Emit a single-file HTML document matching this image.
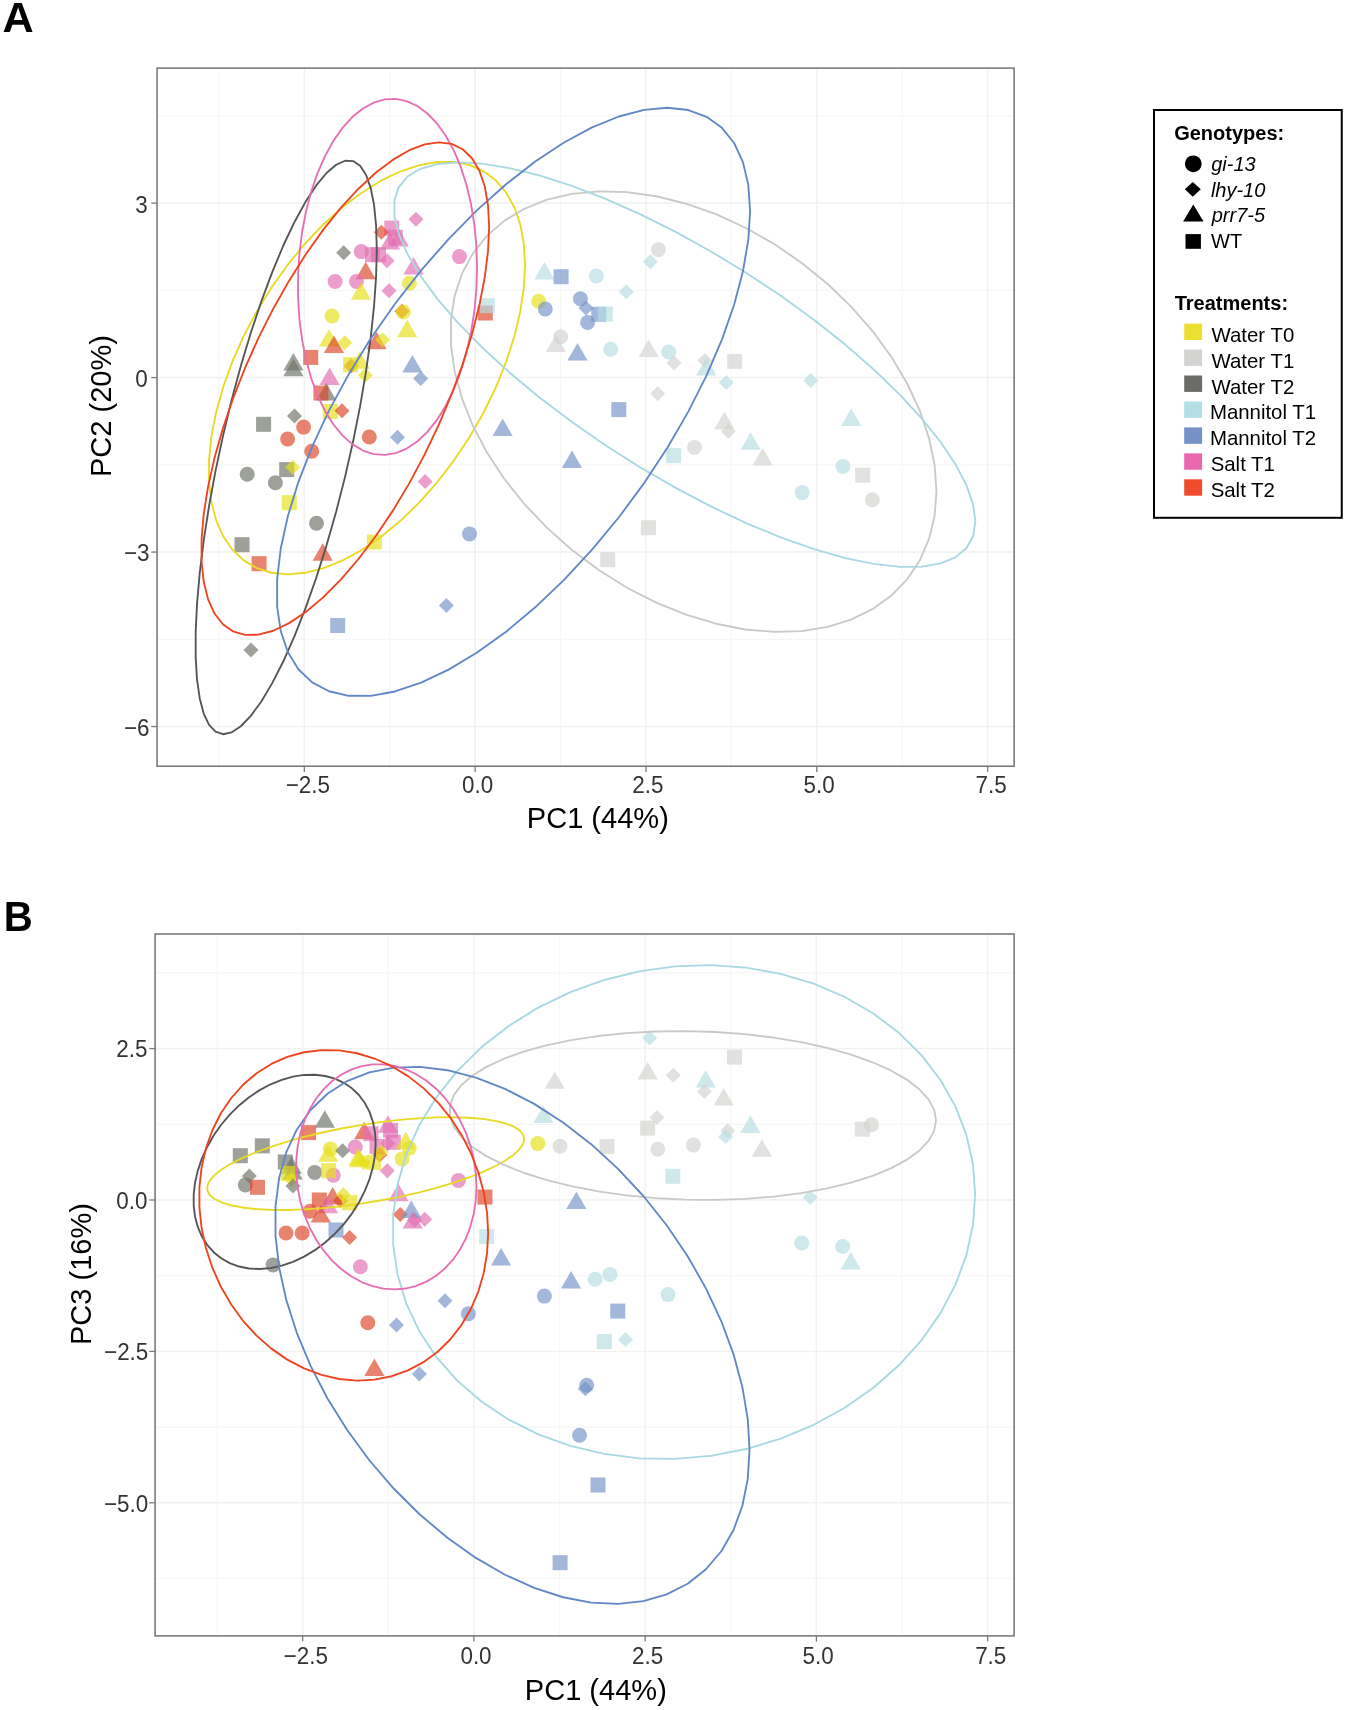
<!DOCTYPE html>
<html><head><meta charset="utf-8"><style>
html,body{margin:0;padding:0;background:#fff;}
svg{display:block;will-change:transform;}
text{font-family:"Liberation Sans",sans-serif;}
</style></head><body>
<svg width="1350" height="1710" viewBox="0 0 1350 1710">
<rect width="1350" height="1710" fill="#fff"/>
<text transform="translate(2.42 32.00) scale(1.005 1)" font-size="43" font-weight="bold">A</text>
<text transform="translate(3.71 931.40) scale(0.935 1)" font-size="43" font-weight="bold">B</text>
<g stroke="#F6F6F5" stroke-width="1.2"><line x1="218.91" y1="68.1" x2="218.91" y2="766.2"/><line x1="389.74" y1="68.1" x2="389.74" y2="766.2"/><line x1="560.56" y1="68.1" x2="560.56" y2="766.2"/><line x1="731.39" y1="68.1" x2="731.39" y2="766.2"/><line x1="902.21" y1="68.1" x2="902.21" y2="766.2"/><line x1="157.05" y1="639.32" x2="1014.1" y2="639.32"/><line x1="157.05" y1="464.84" x2="1014.1" y2="464.84"/><line x1="157.05" y1="290.36" x2="1014.1" y2="290.36"/><line x1="157.05" y1="115.88" x2="1014.1" y2="115.88"/></g>
<g stroke="#F1F1F0" stroke-width="1.5"><line x1="304.32" y1="68.1" x2="304.32" y2="766.2"/><line x1="475.15" y1="68.1" x2="475.15" y2="766.2"/><line x1="645.97" y1="68.1" x2="645.97" y2="766.2"/><line x1="816.80" y1="68.1" x2="816.80" y2="766.2"/><line x1="987.62" y1="68.1" x2="987.62" y2="766.2"/><line x1="157.05" y1="726.56" x2="1014.1" y2="726.56"/><line x1="157.05" y1="552.08" x2="1014.1" y2="552.08"/><line x1="157.05" y1="377.60" x2="1014.1" y2="377.60"/><line x1="157.05" y1="203.12" x2="1014.1" y2="203.12"/></g>
<g fill-opacity="0.67"><path d="M416.0 211.8L423.5 219.3L416.0 226.8L408.5 219.3Z" fill="#E16EB3"/><rect x="384.3" y="220.6" width="15.0" height="15.0" fill="#E16EB3"/><rect x="387.9" y="229.7" width="15.0" height="15.0" fill="#E16EB3"/><path d="M381.3 224.7L388.8 232.2L381.3 239.7L373.8 232.2Z" fill="#DB4627"/><path d="M390.0 232.0L400.1 249.5L379.9 249.5Z" fill="#E16EB3"/><path d="M398.8 229.1L408.9 246.6L388.7 246.6Z" fill="#E16EB3"/><path d="M343.7 245.2L351.2 252.7L343.7 260.2L336.2 252.7Z" fill="#6E7368"/><circle cx="361.3" cy="251.6" r="7.5" fill="#E16EB3"/><rect x="365.0" y="247.2" width="15.0" height="15.0" fill="#E16EB3"/><rect x="371.0" y="247.2" width="15.0" height="15.0" fill="#E16EB3"/><path d="M387.0 253.2L394.5 260.7L387.0 268.2L379.5 260.7Z" fill="#E16EB3"/><path d="M365.7 261.8L375.8 279.3L355.6 279.3Z" fill="#DB4627"/><path d="M413.5 256.9L423.6 274.4L403.4 274.4Z" fill="#E16EB3"/><circle cx="459.4" cy="256.6" r="7.5" fill="#E16EB3"/><circle cx="335.1" cy="281.5" r="7.5" fill="#E16EB3"/><circle cx="356.4" cy="281.4" r="7.5" fill="#E16EB3"/><path d="M361.0 282.3L371.1 299.8L350.9 299.8Z" fill="#E6E018"/><circle cx="409.4" cy="283.2" r="7.5" fill="#E6E018"/><path d="M389.0 283.3L396.5 290.8L389.0 298.3L381.5 290.8Z" fill="#E16EB3"/><circle cx="332.0" cy="316.0" r="7.5" fill="#E6E018"/><path d="M402.0 303.8L409.5 311.3L402.0 318.8L394.5 311.3Z" fill="#DB4627"/><circle cx="403.3" cy="312.0" r="7.5" fill="#E6E018"/><path d="M329.0 328.9L339.1 346.4L318.9 346.4Z" fill="#E6E018"/><path d="M334.0 335.6L344.1 353.1L323.9 353.1Z" fill="#DB4627"/><path d="M344.7 335.3L352.2 342.8L344.7 350.3L337.2 342.8Z" fill="#E6E018"/><path d="M376.5 331.7L386.6 349.2L366.4 349.2Z" fill="#DB4627"/><path d="M382.5 332.3L390.0 339.8L382.5 347.3L375.0 339.8Z" fill="#E6E018"/><rect x="303.2" y="349.9" width="15.0" height="15.0" fill="#DB4627"/><path d="M293.4 353.1L303.5 370.6L283.3 370.6Z" fill="#6E7368"/><path d="M293.4 358.8L303.5 376.3L283.3 376.3Z" fill="#6E7368"/><path d="M351.1 358.5L358.6 366.0L351.1 373.5L343.6 366.0Z" fill="#DB4627"/><rect x="343.1" y="357.2" width="15.0" height="15.0" fill="#E6E018"/><path d="M359.8 351.3L369.9 368.8L349.7 368.8Z" fill="#E6E018"/><path d="M365.3 367.7L372.8 375.2L365.3 382.7L357.8 375.2Z" fill="#E6E018"/><path d="M329.6 367.6L339.7 385.1L319.5 385.1Z" fill="#E16EB3"/><path d="M326.3 383.0L336.4 400.5L316.2 400.5Z" fill="#6E7368"/><rect x="313.4" y="385.5" width="15.0" height="15.0" fill="#DB4627"/><rect x="322.7" y="404.0" width="15.0" height="15.0" fill="#E6E018"/><path d="M342.0 403.2L349.5 410.7L342.0 418.2L334.5 410.7Z" fill="#DB4627"/><path d="M294.5 408.5L302.0 416.0L294.5 423.5L287.0 416.0Z" fill="#6E7368"/><rect x="256.1" y="416.8" width="15.0" height="15.0" fill="#6E7368"/><path d="M407.2 319.7L417.3 337.2L397.1 337.2Z" fill="#E6E018"/><path d="M412.4 355.0L422.5 372.5L402.3 372.5Z" fill="#7494C6"/><path d="M420.7 370.9L428.2 378.4L420.7 385.9L413.2 378.4Z" fill="#7494C6"/><rect x="477.8" y="305.5" width="15.0" height="15.0" fill="#DB4627"/><rect x="479.9" y="298.1" width="15.0" height="15.0" fill="#B6DDE3"/><circle cx="538.7" cy="301.3" r="7.5" fill="#E6E018"/><circle cx="545.3" cy="309.0" r="7.5" fill="#7494C6"/><circle cx="658.4" cy="249.6" r="7.5" fill="#D2D2CF"/><path d="M650.4 254.2L657.9 261.7L650.4 269.2L642.9 261.7Z" fill="#B6DDE3"/><path d="M544.4 262.1L554.5 279.6L534.3 279.6Z" fill="#B6DDE3"/><rect x="553.6" y="269.2" width="15.0" height="15.0" fill="#7494C6"/><circle cx="596.3" cy="276.0" r="7.5" fill="#B6DDE3"/><path d="M626.3 284.2L633.8 291.7L626.3 299.2L618.8 291.7Z" fill="#B6DDE3"/><circle cx="580.4" cy="298.7" r="7.5" fill="#7494C6"/><path d="M586.0 300.5L593.5 308.0L586.0 315.5L578.5 308.0Z" fill="#7494C6"/><circle cx="587.6" cy="322.4" r="7.5" fill="#7494C6"/><rect x="591.2" y="306.8" width="15.0" height="15.0" fill="#7494C6"/><rect x="597.8" y="306.5" width="15.0" height="15.0" fill="#B6DDE3"/><circle cx="560.7" cy="336.7" r="7.5" fill="#D2D2CF"/><path d="M555.9 334.5L566.0 352.0L545.8 352.0Z" fill="#D2D2CF"/><path d="M577.5 343.0L587.6 360.5L567.4 360.5Z" fill="#7494C6"/><circle cx="610.7" cy="349.3" r="7.5" fill="#B6DDE3"/><path d="M648.7 339.5L658.8 357.0L638.6 357.0Z" fill="#D2D2CF"/><circle cx="668.7" cy="352.0" r="7.5" fill="#B6DDE3"/><path d="M674.0 355.4L681.5 362.9L674.0 370.4L666.5 362.9Z" fill="#D2D2CF"/><path d="M704.8 352.9L712.3 360.4L704.8 367.9L697.3 360.4Z" fill="#D2D2CF"/><path d="M706.3 358.1L716.4 375.6L696.2 375.6Z" fill="#B6DDE3"/><rect x="727.2" y="353.9" width="15.0" height="15.0" fill="#D2D2CF"/><path d="M726.3 375.1L733.8 382.6L726.3 390.1L718.8 382.6Z" fill="#B6DDE3"/><path d="M810.7 372.9L818.2 380.4L810.7 387.9L803.2 380.4Z" fill="#B6DDE3"/><path d="M657.7 386.2L665.2 393.7L657.7 401.2L650.2 393.7Z" fill="#D2D2CF"/><rect x="611.3" y="402.1" width="15.0" height="15.0" fill="#7494C6"/><path d="M724.4 411.7L734.5 429.2L714.3 429.2Z" fill="#D2D2CF"/><path d="M728.3 423.7L735.8 431.2L728.3 438.7L720.8 431.2Z" fill="#D2D2CF"/><circle cx="694.5" cy="447.4" r="7.5" fill="#D2D2CF"/><path d="M750.7 432.2L760.8 449.7L740.6 449.7Z" fill="#B6DDE3"/><path d="M762.6 448.0L772.7 465.5L752.5 465.5Z" fill="#D2D2CF"/><path d="M851.2 408.5L861.3 426.0L841.1 426.0Z" fill="#B6DDE3"/><circle cx="843.0" cy="466.4" r="7.5" fill="#B6DDE3"/><rect x="855.2" y="467.7" width="15.0" height="15.0" fill="#D2D2CF"/><circle cx="802.2" cy="492.6" r="7.5" fill="#B6DDE3"/><circle cx="872.3" cy="499.7" r="7.5" fill="#D2D2CF"/><path d="M572.0 450.4L582.1 467.9L561.9 467.9Z" fill="#7494C6"/><rect x="666.1" y="448.1" width="15.0" height="15.0" fill="#B6DDE3"/><rect x="640.9" y="520.2" width="15.0" height="15.0" fill="#D2D2CF"/><rect x="600.2" y="552.2" width="15.0" height="15.0" fill="#D2D2CF"/><circle cx="303.6" cy="427.1" r="7.5" fill="#DB4627"/><circle cx="287.6" cy="439.0" r="7.5" fill="#DB4627"/><circle cx="311.7" cy="451.3" r="7.5" fill="#DB4627"/><circle cx="369.3" cy="437.0" r="7.5" fill="#DB4627"/><path d="M397.5 429.8L405.0 437.3L397.5 444.8L390.0 437.3Z" fill="#7494C6"/><rect x="279.2" y="462.1" width="15.0" height="15.0" fill="#6E7368"/><path d="M292.7 459.8L300.2 467.3L292.7 474.8L285.2 467.3Z" fill="#E6E018"/><circle cx="247.2" cy="474.2" r="7.5" fill="#6E7368"/><circle cx="275.4" cy="482.7" r="7.5" fill="#6E7368"/><rect x="281.8" y="495.2" width="15.0" height="15.0" fill="#E6E018"/><circle cx="316.5" cy="523.3" r="7.5" fill="#6E7368"/><rect x="234.5" y="537.2" width="15.0" height="15.0" fill="#6E7368"/><rect x="251.6" y="556.2" width="15.0" height="15.0" fill="#DB4627"/><path d="M322.7 543.2L332.8 560.7L312.6 560.7Z" fill="#DB4627"/><rect x="366.9" y="534.5" width="15.0" height="15.0" fill="#E6E018"/><rect x="330.2" y="618.0" width="15.0" height="15.0" fill="#7494C6"/><path d="M251.0 642.6L258.5 650.1L251.0 657.6L243.5 650.1Z" fill="#6E7368"/><circle cx="469.5" cy="533.9" r="7.5" fill="#7494C6"/><path d="M446.4 598.1L453.9 605.6L446.4 613.1L438.9 605.6Z" fill="#7494C6"/><path d="M425.1 473.9L432.6 481.4L425.1 488.9L417.6 481.4Z" fill="#E16EB3"/><path d="M502.6 418.4L512.7 435.9L492.5 435.9Z" fill="#7494C6"/></g>
<g><path d="M525.04 264.90L523.84 287.65L520.26 311.62L514.36 336.44L506.22 361.74L495.97 387.14L483.76 412.24L469.78 436.68L454.24 460.07L437.38 482.06L419.44 502.33L400.72 520.56L381.47 536.48L362.01 549.84L342.62 560.44L323.60 568.13L305.23 572.78L287.80 574.33L271.57 572.75L256.78 568.07L243.67 560.35L232.42 549.72L223.20 536.33L216.17 520.39L211.42 502.14L209.03 481.85L209.03 459.84L211.42 436.43L216.17 411.99L223.20 386.88L232.42 361.49L243.67 336.19L256.78 311.37L271.57 287.41L287.80 264.68L305.23 243.51L323.60 224.22L342.62 207.12L362.01 192.45L381.47 180.44L400.72 171.28L419.44 165.10L437.38 161.99L454.24 162.00L469.78 165.14L483.76 171.36L495.97 180.55L506.22 192.58L514.36 207.28L520.26 224.40L523.84 243.71Z" fill="none" stroke="#E8DA22" stroke-width="1.85" stroke-linejoin="round"/><path d="M936.45 490.96L934.61 515.63L929.11 538.73L920.04 559.89L907.54 578.81L891.79 595.20L873.04 608.80L851.56 619.41L827.69 626.88L801.79 631.08L774.24 631.95L745.47 629.48L715.91 623.72L686.01 614.73L656.22 602.67L627.00 587.71L598.78 570.09L572.01 550.06L547.07 527.93L524.35 504.04L504.20 478.75L486.92 452.44L472.76 425.51L461.96 398.37L454.66 371.44L450.99 345.11L450.99 319.79L454.66 295.86L461.96 273.69L472.76 253.61L486.92 235.92L504.20 220.90L524.35 208.77L547.07 199.72L572.01 193.87L598.78 191.33L627.00 192.13L656.22 196.25L686.01 203.64L715.91 214.19L745.47 227.72L774.24 244.04L801.79 262.91L827.69 284.03L851.56 307.08L873.04 331.72L891.79 357.57L907.54 384.24L920.04 411.32L929.11 438.41L934.61 465.09Z" fill="none" stroke="#C9C9C7" stroke-width="1.85" stroke-linejoin="round"/><path d="M376.78 249.61L376.09 276.67L374.04 306.31L370.66 338.09L365.99 371.53L360.12 406.11L353.12 441.32L345.11 476.62L336.21 511.47L326.54 545.36L316.27 577.75L305.53 608.17L294.50 636.15L283.35 661.27L272.24 683.14L261.34 701.44L250.81 715.88L240.82 726.26L231.52 732.40L223.05 734.23L215.53 731.70L209.08 724.86L203.80 713.82L199.77 698.73L197.05 679.84L195.68 657.42L195.68 631.81L197.05 603.41L199.77 572.64L203.80 539.97L209.08 505.89L215.53 470.93L223.05 435.61L231.52 400.46L240.82 366.03L250.81 332.83L261.34 301.36L272.24 272.11L283.35 245.51L294.50 221.97L305.53 201.85L316.27 185.44L326.54 173.01L336.21 164.73L345.11 160.74L353.12 161.09L360.12 165.78L365.99 174.74L370.66 187.83L374.04 204.85L376.09 225.55Z" fill="none" stroke="#555555" stroke-width="1.85" stroke-linejoin="round"/><path d="M975.35 521.49L973.15 536.04L966.57 547.99L955.72 557.16L940.76 563.41L921.91 566.65L899.47 566.83L873.77 563.95L845.20 558.04L814.20 549.21L781.23 537.58L746.80 523.33L711.42 506.67L675.64 487.86L639.99 467.19L605.02 444.96L571.26 421.52L539.21 397.22L509.37 372.42L482.19 347.51L458.07 322.85L437.39 298.84L420.45 275.82L407.52 254.15L398.79 234.15L394.39 216.14L394.39 200.37L398.79 187.10L407.52 176.52L420.45 168.80L437.39 164.04L458.07 162.33L482.19 163.68L509.37 168.08L539.21 175.47L571.26 185.72L605.02 198.68L639.99 214.17L675.64 231.93L711.42 251.71L746.80 273.20L781.23 296.08L814.20 320.00L845.20 344.59L873.77 369.50L899.47 394.33L921.91 418.71L940.76 442.27L955.72 464.66L966.57 485.53L973.15 504.57Z" fill="none" stroke="#A8D8E0" stroke-width="1.85" stroke-linejoin="round"/><path d="M750.09 210.97L748.30 239.93L742.94 271.34L734.11 304.74L721.93 339.61L706.58 375.43L688.31 411.65L667.39 447.72L644.13 483.11L618.90 517.26L592.06 549.67L564.03 579.85L535.23 607.32L506.10 631.69L477.08 652.57L448.61 669.66L421.12 682.69L395.04 691.47L370.74 695.86L348.61 695.79L328.98 691.27L312.14 682.37L298.35 669.22L287.82 652.02L280.71 631.03L277.13 606.57L277.13 579.01L280.71 548.77L287.82 516.30L298.35 482.10L312.14 446.69L328.98 410.60L348.61 374.39L370.74 338.59L395.04 303.75L421.12 270.41L448.61 239.06L477.08 210.18L506.10 184.21L535.23 161.54L564.03 142.52L592.06 127.43L618.90 116.51L644.13 109.91L667.39 107.74L688.31 110.04L706.58 116.76L721.93 127.81L734.11 143.01L742.94 162.14L748.30 184.91Z" fill="none" stroke="#6286C6" stroke-width="1.85" stroke-linejoin="round"/><path d="M477.05 267.43L476.37 289.36L474.34 311.09L471.00 332.31L466.39 352.69L460.58 371.92L453.67 389.71L445.75 405.78L436.95 419.91L427.39 431.87L417.24 441.47L406.63 448.59L395.73 453.10L384.70 454.94L373.72 454.08L362.95 450.53L352.54 444.35L342.67 435.64L333.47 424.52L325.10 411.16L317.67 395.76L311.29 378.56L306.08 359.83L302.09 339.83L299.40 318.88L298.05 297.30L298.05 275.40L299.40 253.53L302.09 232.01L306.08 211.18L311.29 191.34L317.67 172.79L325.10 155.83L333.47 140.70L342.67 127.63L352.54 116.83L362.95 108.45L373.72 102.63L384.70 99.45L395.73 98.96L406.63 101.16L417.24 106.03L427.39 113.49L436.95 123.43L445.75 135.70L453.67 150.10L460.58 166.43L466.39 184.43L471.00 203.83L474.34 224.34L476.37 245.65Z" fill="none" stroke="#E86EB4" stroke-width="1.85" stroke-linejoin="round"/><path d="M489.13 226.98L488.03 251.05L484.78 277.22L479.41 305.07L472.00 334.20L462.67 364.15L451.57 394.47L438.85 424.71L424.71 454.41L409.36 483.11L393.05 510.38L376.01 535.81L358.50 559.01L340.79 579.63L323.14 597.36L305.84 611.92L289.13 623.11L273.27 630.74L258.50 634.70L245.04 634.94L233.10 631.44L222.87 624.27L214.48 613.53L208.08 599.38L203.76 582.03L201.59 561.76L201.59 538.87L203.76 513.70L208.08 486.64L214.48 458.10L222.87 428.50L233.10 398.31L245.04 367.97L258.50 337.94L273.27 308.69L289.13 280.65L305.84 254.25L323.14 229.89L340.79 207.94L358.50 188.73L376.01 172.55L393.05 159.65L409.36 150.23L424.71 144.42L438.85 142.31L451.57 143.95L462.67 149.29L472.00 158.27L479.41 170.74L484.78 186.51L488.03 205.35Z" fill="none" stroke="#EC4420" stroke-width="1.85" stroke-linejoin="round"/></g>
<rect x="157.05" y="68.1" width="857.05" height="698.10" fill="none" stroke="#737373" stroke-width="1.5"/>
<g stroke="#7A7A7A" stroke-width="1.3"><line x1="304.32" y1="766.2" x2="304.32" y2="771.9000000000001"/><line x1="475.15" y1="766.2" x2="475.15" y2="771.9000000000001"/><line x1="645.97" y1="766.2" x2="645.97" y2="771.9000000000001"/><line x1="816.80" y1="766.2" x2="816.80" y2="771.9000000000001"/><line x1="987.62" y1="766.2" x2="987.62" y2="771.9000000000001"/><line x1="151.25" y1="203.12" x2="157.05" y2="203.12"/><line x1="151.25" y1="377.60" x2="157.05" y2="377.60"/><line x1="151.25" y1="552.08" x2="157.05" y2="552.08"/><line x1="151.25" y1="726.56" x2="157.05" y2="726.56"/></g>
<g><text transform="translate(285.69 793.20) scale(0.935 1)" font-size="24" fill="#333333">−2.5</text><text transform="translate(462.02 793.20) scale(0.935 1)" font-size="24" fill="#333333">0.0</text><text transform="translate(632.37 793.20) scale(0.935 1)" font-size="24" fill="#333333">2.5</text><text transform="translate(803.60 793.20) scale(0.935 1)" font-size="24" fill="#333333">5.0</text><text transform="translate(975.55 793.20) scale(0.935 1)" font-size="24" fill="#333333">7.5</text><text transform="translate(135.31 212.50) scale(0.935 1)" font-size="24" fill="#333333">3</text><text transform="translate(135.20 386.50) scale(0.935 1)" font-size="24" fill="#333333">0</text><text transform="translate(124.00 561.30) scale(0.935 1)" font-size="24" fill="#333333">−3</text><text transform="translate(124.00 736.10) scale(0.935 1)" font-size="24" fill="#333333">−6</text></g>
<text transform="translate(526.82 827.70) scale(0.975 1)" font-size="29.8">PC1 (44%)</text><g transform="translate(111.3 0) rotate(-90)"><text transform="translate(-477.08 0.00) scale(0.975 1)" font-size="29.8">PC2 (20%)</text></g>
<g stroke="#F6F6F5" stroke-width="1.2"><line x1="217.02" y1="934.0" x2="217.02" y2="1635.9"/><line x1="388.27" y1="934.0" x2="388.27" y2="1635.9"/><line x1="559.52" y1="934.0" x2="559.52" y2="1635.9"/><line x1="730.77" y1="934.0" x2="730.77" y2="1635.9"/><line x1="902.02" y1="934.0" x2="902.02" y2="1635.9"/><line x1="155.1" y1="1578.50" x2="1014.1" y2="1578.50"/><line x1="155.1" y1="1427.10" x2="1014.1" y2="1427.10"/><line x1="155.1" y1="1275.70" x2="1014.1" y2="1275.70"/><line x1="155.1" y1="1124.30" x2="1014.1" y2="1124.30"/><line x1="155.1" y1="972.90" x2="1014.1" y2="972.90"/></g>
<g stroke="#F1F1F0" stroke-width="1.5"><line x1="302.65" y1="934.0" x2="302.65" y2="1635.9"/><line x1="473.90" y1="934.0" x2="473.90" y2="1635.9"/><line x1="645.15" y1="934.0" x2="645.15" y2="1635.9"/><line x1="816.40" y1="934.0" x2="816.40" y2="1635.9"/><line x1="987.65" y1="934.0" x2="987.65" y2="1635.9"/><line x1="155.1" y1="1502.80" x2="1014.1" y2="1502.80"/><line x1="155.1" y1="1351.40" x2="1014.1" y2="1351.40"/><line x1="155.1" y1="1200.00" x2="1014.1" y2="1200.00"/><line x1="155.1" y1="1048.60" x2="1014.1" y2="1048.60"/></g>
<g fill-opacity="0.67"><rect x="232.8" y="1148.2" width="15.0" height="15.0" fill="#6E7368"/><rect x="254.8" y="1138.3" width="15.0" height="15.0" fill="#6E7368"/><rect x="277.8" y="1154.5" width="15.0" height="15.0" fill="#6E7368"/><path d="M291.7 1156.3L301.8 1173.8L281.6 1173.8Z" fill="#6E7368"/><path d="M292.7 1162.0L302.8 1179.5L282.6 1179.5Z" fill="#6E7368"/><rect x="280.5" y="1165.8" width="15.0" height="15.0" fill="#E6E018"/><path d="M291.3 1171.8L298.8 1179.3L291.3 1186.8L283.8 1179.3Z" fill="#E6E018"/><path d="M249.3 1168.5L256.8 1176.0L249.3 1183.5L241.8 1176.0Z" fill="#6E7368"/><path d="M293.0 1178.5L300.5 1186.0L293.0 1193.5L285.5 1186.0Z" fill="#6E7368"/><circle cx="245.3" cy="1185.0" r="7.5" fill="#6E7368"/><rect x="250.0" y="1179.8" width="15.0" height="15.0" fill="#DB4627"/><path d="M324.8 1110.2L334.9 1127.7L314.7 1127.7Z" fill="#6E7368"/><rect x="301.0" y="1125.1" width="15.0" height="15.0" fill="#DB4627"/><circle cx="330.4" cy="1148.9" r="7.5" fill="#E6E018"/><path d="M328.1 1144.3L338.2 1161.8L318.0 1161.8Z" fill="#E6E018"/><path d="M342.6 1143.2L350.1 1150.7L342.6 1158.2L335.1 1150.7Z" fill="#6E7368"/><circle cx="355.2" cy="1147.0" r="7.5" fill="#E16EB3"/><circle cx="314.7" cy="1172.4" r="7.5" fill="#6E7368"/><circle cx="333.3" cy="1175.2" r="7.5" fill="#E16EB3"/><rect x="321.0" y="1163.2" width="15.0" height="15.0" fill="#E6E018"/><path d="M364.2 1121.8L374.3 1139.3L354.1 1139.3Z" fill="#DB4627"/><rect x="363.5" y="1126.2" width="15.0" height="15.0" fill="#E16EB3"/><path d="M387.9 1115.3L398.0 1132.8L377.8 1132.8Z" fill="#E16EB3"/><rect x="383.1" y="1122.9" width="15.0" height="15.0" fill="#E16EB3"/><rect x="369.5" y="1138.9" width="15.0" height="15.0" fill="#E16EB3"/><rect x="385.8" y="1134.8" width="15.0" height="15.0" fill="#E16EB3"/><path d="M387.9 1135.9L395.4 1143.4L387.9 1150.9L380.4 1143.4Z" fill="#E16EB3"/><path d="M379.8 1147.5L387.3 1155.0L379.8 1162.5L372.3 1155.0Z" fill="#DB4627"/><path d="M381.0 1144.5L388.5 1152.0L381.0 1159.5L373.5 1152.0Z" fill="#E6E018"/><path d="M405.7 1131.6L415.8 1149.1L395.6 1149.1Z" fill="#E6E018"/><circle cx="409.3" cy="1148.2" r="7.5" fill="#E6E018"/><circle cx="402.1" cy="1158.9" r="7.5" fill="#E6E018"/><path d="M358.3 1148.2L368.4 1165.7L348.2 1165.7Z" fill="#E6E018"/><path d="M359.5 1149.8L369.6 1167.3L349.4 1167.3Z" fill="#E6E018"/><path d="M363.8 1155.0L371.3 1162.5L363.8 1170.0L356.3 1162.5Z" fill="#E6E018"/><rect x="365.9" y="1154.9" width="15.0" height="15.0" fill="#E6E018"/><path d="M387.3 1163.2L394.8 1170.7L387.3 1178.2L379.8 1170.7Z" fill="#E16EB3"/><rect x="311.8" y="1192.5" width="15.0" height="15.0" fill="#DB4627"/><path d="M332.7 1187.1L342.8 1204.6L322.6 1204.6Z" fill="#DB4627"/><path d="M328.0 1195.8L338.1 1213.3L317.9 1213.3Z" fill="#E16EB3"/><path d="M340.4 1193.2L347.9 1200.7L340.4 1208.2L332.9 1200.7Z" fill="#DB4627"/><path d="M343.3 1187.2L350.8 1194.7L343.3 1202.2L335.8 1194.7Z" fill="#E6E018"/><rect x="342.1" y="1195.2" width="15.0" height="15.0" fill="#E6E018"/><circle cx="310.0" cy="1211.3" r="7.5" fill="#DB4627"/><path d="M320.7 1205.1L330.8 1222.6L310.6 1222.6Z" fill="#DB4627"/><rect x="328.5" y="1222.5" width="15.0" height="15.0" fill="#7494C6"/><path d="M349.6 1230.1L357.1 1237.6L349.6 1245.1L342.1 1237.6Z" fill="#DB4627"/><circle cx="286.0" cy="1233.0" r="7.5" fill="#DB4627"/><circle cx="302.2" cy="1233.0" r="7.5" fill="#DB4627"/><circle cx="273.1" cy="1264.9" r="7.5" fill="#6E7368"/><circle cx="360.3" cy="1266.7" r="7.5" fill="#E16EB3"/><circle cx="458.4" cy="1180.5" r="7.5" fill="#E16EB3"/><path d="M398.4 1183.8L408.5 1201.3L388.3 1201.3Z" fill="#E16EB3"/><path d="M400.3 1206.9L407.8 1214.4L400.3 1221.9L392.8 1214.4Z" fill="#DB4627"/><path d="M414.6 1212.8L422.1 1220.3L414.6 1227.8L407.1 1220.3Z" fill="#E16EB3"/><path d="M411.3 1200.4L421.4 1217.9L401.2 1217.9Z" fill="#7494C6"/><path d="M412.7 1211.1L422.8 1228.6L402.6 1228.6Z" fill="#E16EB3"/><path d="M424.7 1211.8L432.2 1219.3L424.7 1226.8L417.2 1219.3Z" fill="#E16EB3"/><rect x="477.4" y="1189.6" width="15.0" height="15.0" fill="#DB4627"/><rect x="479.2" y="1229.1" width="15.0" height="15.0" fill="#B6DDE3"/><path d="M501.1 1248.1L511.2 1265.6L491.0 1265.6Z" fill="#7494C6"/><path d="M576.4 1191.4L586.5 1208.9L566.3 1208.9Z" fill="#7494C6"/><path d="M571.1 1270.9L581.2 1288.4L561.0 1288.4Z" fill="#7494C6"/><circle cx="595.1" cy="1279.2" r="7.5" fill="#B6DDE3"/><circle cx="609.9" cy="1274.5" r="7.5" fill="#B6DDE3"/><circle cx="668.0" cy="1294.6" r="7.5" fill="#B6DDE3"/><circle cx="544.4" cy="1296.1" r="7.5" fill="#7494C6"/><rect x="610.3" y="1303.6" width="15.0" height="15.0" fill="#7494C6"/><rect x="596.8" y="1334.1" width="15.0" height="15.0" fill="#B6DDE3"/><path d="M625.5 1332.0L633.0 1339.5L625.5 1347.0L618.0 1339.5Z" fill="#B6DDE3"/><path d="M445.0 1293.3L452.5 1300.8L445.0 1308.3L437.5 1300.8Z" fill="#7494C6"/><circle cx="468.4" cy="1313.8" r="7.5" fill="#7494C6"/><path d="M396.5 1317.5L404.0 1325.0L396.5 1332.5L389.0 1325.0Z" fill="#7494C6"/><circle cx="367.8" cy="1322.7" r="7.5" fill="#DB4627"/><path d="M374.4 1358.5L384.5 1376.0L364.3 1376.0Z" fill="#DB4627"/><path d="M419.4 1366.5L426.9 1374.0L419.4 1381.5L411.9 1374.0Z" fill="#7494C6"/><circle cx="586.7" cy="1385.2" r="7.5" fill="#7494C6"/><path d="M585.3 1381.2L592.8 1388.7L585.3 1396.2L577.8 1388.7Z" fill="#7494C6"/><circle cx="579.5" cy="1435.2" r="7.5" fill="#7494C6"/><rect x="590.5" y="1477.5" width="15.0" height="15.0" fill="#7494C6"/><rect x="552.6" y="1555.2" width="15.0" height="15.0" fill="#7494C6"/><path d="M649.6 1030.6L657.1 1038.1L649.6 1045.6L642.1 1038.1Z" fill="#B6DDE3"/><path d="M554.8 1071.3L564.9 1088.8L544.7 1088.8Z" fill="#D2D2CF"/><path d="M647.7 1061.9L657.8 1079.4L637.6 1079.4Z" fill="#D2D2CF"/><path d="M673.3 1067.7L680.8 1075.2L673.3 1082.7L665.8 1075.2Z" fill="#D2D2CF"/><path d="M705.7 1070.1L715.8 1087.6L695.6 1087.6Z" fill="#B6DDE3"/><path d="M704.4 1084.0L711.9 1091.5L704.4 1099.0L696.9 1091.5Z" fill="#D2D2CF"/><path d="M543.4 1105.4L553.5 1122.9L533.3 1122.9Z" fill="#B6DDE3"/><path d="M657.0 1109.9L664.5 1117.4L657.0 1124.9L649.5 1117.4Z" fill="#D2D2CF"/><rect x="640.2" y="1120.6" width="15.0" height="15.0" fill="#D2D2CF"/><circle cx="537.8" cy="1143.6" r="7.5" fill="#E6E018"/><circle cx="560.0" cy="1146.3" r="7.5" fill="#D2D2CF"/><rect x="599.5" y="1139.1" width="15.0" height="15.0" fill="#D2D2CF"/><circle cx="657.8" cy="1149.3" r="7.5" fill="#D2D2CF"/><circle cx="693.3" cy="1145.1" r="7.5" fill="#D2D2CF"/><rect x="727.0" y="1049.6" width="15.0" height="15.0" fill="#D2D2CF"/><path d="M723.7 1088.1L733.8 1105.6L713.6 1105.6Z" fill="#D2D2CF"/><path d="M727.7 1123.2L735.2 1130.7L727.7 1138.2L720.2 1130.7Z" fill="#D2D2CF"/><path d="M725.6 1129.2L733.1 1136.7L725.6 1144.2L718.1 1136.7Z" fill="#B6DDE3"/><path d="M750.4 1115.5L760.5 1133.0L740.3 1133.0Z" fill="#B6DDE3"/><path d="M761.9 1139.2L772.0 1156.7L751.8 1156.7Z" fill="#D2D2CF"/><rect x="854.8" y="1121.7" width="15.0" height="15.0" fill="#D2D2CF"/><circle cx="871.6" cy="1124.8" r="7.5" fill="#D2D2CF"/><rect x="665.3" y="1168.8" width="15.0" height="15.0" fill="#B6DDE3"/><path d="M810.2 1190.1L817.7 1197.6L810.2 1205.1L802.7 1197.6Z" fill="#B6DDE3"/><circle cx="801.7" cy="1243.0" r="7.5" fill="#B6DDE3"/><circle cx="842.6" cy="1246.5" r="7.5" fill="#B6DDE3"/><path d="M850.8 1252.1L860.9 1269.6L840.7 1269.6Z" fill="#B6DDE3"/></g>
<g><path d="M524.20 1139.01L523.00 1144.03L519.41 1149.35L513.49 1154.89L505.33 1160.55L495.05 1166.27L482.81 1171.94L468.80 1177.49L453.22 1182.83L436.31 1187.87L418.33 1192.55L399.55 1196.79L380.26 1200.53L360.75 1203.71L341.31 1206.28L322.24 1208.20L303.82 1209.45L286.35 1210.00L270.07 1209.85L255.25 1209.00L242.09 1207.46L230.81 1205.26L221.58 1202.42L214.53 1199.00L209.76 1195.04L207.36 1190.60L207.36 1185.76L209.76 1180.58L214.53 1175.14L221.58 1169.53L230.81 1163.83L242.09 1158.12L255.25 1152.50L270.07 1147.05L286.35 1141.84L303.82 1136.97L322.24 1132.50L341.31 1128.51L360.75 1125.04L380.26 1122.16L399.55 1119.91L418.33 1118.33L436.31 1117.42L453.22 1117.22L468.80 1117.72L482.81 1118.92L495.05 1120.80L505.33 1123.32L513.49 1126.46L519.41 1130.15L523.00 1134.36Z" fill="none" stroke="#E8DA22" stroke-width="1.85" stroke-linejoin="round"/><path d="M936.04 1120.30L934.20 1130.63L928.70 1140.72L919.62 1150.44L907.10 1159.62L891.33 1168.14L872.56 1175.86L851.06 1182.66L827.16 1188.45L801.22 1193.13L773.64 1196.64L744.83 1198.92L715.24 1199.93L685.30 1199.66L655.48 1198.12L626.22 1195.33L597.98 1191.32L571.17 1186.17L546.20 1179.95L523.46 1172.75L503.28 1164.68L485.98 1155.87L471.81 1146.45L460.99 1136.56L453.68 1126.35L450.00 1115.97L450.00 1105.59L453.68 1095.36L460.99 1085.44L471.81 1075.97L485.98 1067.10L503.28 1058.97L523.46 1051.69L546.20 1045.39L571.17 1040.14L597.98 1036.04L626.22 1033.14L655.48 1031.49L685.30 1031.12L715.24 1032.03L744.83 1034.20L773.64 1037.60L801.22 1042.19L827.16 1047.89L851.06 1054.61L872.56 1062.26L891.33 1070.71L907.10 1079.85L919.62 1089.52L928.70 1099.59L934.20 1109.90Z" fill="none" stroke="#C9C9C7" stroke-width="1.85" stroke-linejoin="round"/><path d="M375.67 1143.57L374.98 1155.22L372.92 1167.11L369.52 1179.08L364.83 1190.93L358.93 1202.50L351.90 1213.60L343.85 1224.07L334.90 1233.74L325.19 1242.48L314.86 1250.15L304.08 1256.63L292.99 1261.83L281.79 1265.66L270.62 1268.07L259.67 1269.02L249.09 1268.49L239.05 1266.51L229.71 1263.08L221.19 1258.28L213.64 1252.16L207.16 1244.83L201.85 1236.39L197.80 1226.97L195.07 1216.71L193.69 1205.78L193.69 1194.33L195.07 1182.54L197.80 1170.59L201.85 1158.66L207.16 1146.92L213.64 1135.57L221.19 1124.76L229.71 1114.67L239.05 1105.44L249.09 1097.23L259.67 1090.14L270.62 1084.29L281.79 1079.77L292.99 1076.64L304.08 1074.96L314.86 1074.74L325.19 1076.00L334.90 1078.71L343.85 1082.83L351.90 1088.31L358.93 1095.04L364.83 1102.95L369.52 1111.89L372.92 1121.75L374.98 1132.36Z" fill="none" stroke="#555555" stroke-width="1.85" stroke-linejoin="round"/><path d="M975.16 1194.45L972.96 1224.86L966.37 1255.08L955.49 1284.65L940.51 1313.12L921.63 1340.06L899.14 1365.05L873.40 1387.73L844.78 1407.75L813.72 1424.81L780.70 1438.63L746.21 1449.03L710.77 1455.83L674.92 1458.94L639.22 1458.31L604.18 1453.95L570.36 1445.92L538.26 1434.35L508.36 1419.40L481.13 1401.32L456.97 1380.37L436.25 1356.87L419.29 1331.17L406.33 1303.67L397.58 1274.78L393.18 1244.95L393.18 1214.61L397.58 1184.24L406.33 1154.29L419.29 1125.21L436.25 1097.46L456.97 1071.44L481.13 1047.56L508.36 1026.17L538.26 1007.60L570.36 992.13L604.18 979.99L639.22 971.37L674.92 966.41L710.77 965.17L746.21 967.67L780.70 973.88L813.72 983.70L844.78 996.98L873.40 1013.52L899.14 1033.08L921.63 1055.35L940.51 1079.99L955.49 1106.64L966.37 1134.89L972.96 1164.31Z" fill="none" stroke="#A8D8E0" stroke-width="1.85" stroke-linejoin="round"/><path d="M749.56 1449.88L747.76 1478.88L742.39 1505.70L733.54 1529.94L721.33 1551.23L705.95 1569.25L687.64 1583.72L666.67 1594.43L643.36 1601.20L618.06 1603.95L591.16 1602.63L563.07 1597.25L534.20 1587.90L505.01 1574.73L475.92 1557.92L447.39 1537.74L419.84 1514.49L393.69 1488.53L369.34 1460.24L347.16 1430.06L327.48 1398.45L310.60 1365.87L296.78 1332.84L286.23 1299.84L279.11 1267.38L275.52 1235.95L275.52 1206.02L279.11 1178.06L286.23 1152.48L296.78 1129.67L310.60 1109.98L327.48 1093.71L347.16 1081.09L369.34 1072.34L393.69 1067.56L419.84 1066.85L447.39 1070.21L475.92 1077.58L505.01 1088.87L534.20 1103.89L563.07 1122.41L591.16 1144.17L618.06 1168.82L643.36 1196.00L666.67 1225.29L687.64 1256.24L705.95 1288.40L721.33 1321.27L733.54 1354.35L742.39 1387.14L747.76 1419.15Z" fill="none" stroke="#6286C6" stroke-width="1.85" stroke-linejoin="round"/><path d="M476.46 1186.69L475.78 1200.40L473.74 1213.76L470.37 1226.56L465.73 1238.60L459.89 1249.71L452.93 1259.71L444.96 1268.45L436.10 1275.81L426.48 1281.66L416.26 1285.93L405.58 1288.54L394.61 1289.45L383.51 1288.66L372.46 1286.17L361.61 1282.03L351.14 1276.29L341.20 1269.04L331.94 1260.39L323.51 1250.47L316.03 1239.44L309.62 1227.46L304.37 1214.71L300.35 1201.39L297.65 1187.69L296.28 1173.83L296.28 1160.01L297.65 1146.45L300.35 1133.35L304.37 1120.90L309.62 1109.31L316.03 1098.73L323.51 1089.34L331.94 1081.28L341.20 1074.66L351.14 1069.59L361.61 1066.15L372.46 1064.38L383.51 1064.32L394.61 1065.96L405.58 1069.28L416.26 1074.24L426.48 1080.74L436.10 1088.71L444.96 1098.01L452.93 1108.50L459.89 1120.03L465.73 1132.42L470.37 1145.48L473.74 1159.01L475.78 1172.82Z" fill="none" stroke="#E86EB4" stroke-width="1.85" stroke-linejoin="round"/><path d="M488.16 1233.16L487.06 1253.23L483.79 1272.71L478.40 1291.33L470.96 1308.79L461.59 1324.83L450.44 1339.22L437.67 1351.72L423.47 1362.15L408.06 1370.36L391.67 1376.22L374.56 1379.63L356.98 1380.56L339.19 1378.98L321.48 1374.91L304.10 1368.43L287.31 1359.62L271.39 1348.63L256.56 1335.61L243.04 1320.77L231.06 1304.33L220.78 1286.54L212.36 1267.67L205.93 1248.00L201.59 1227.84L199.41 1207.49L199.41 1187.25L201.59 1167.44L205.93 1148.35L212.36 1130.28L220.78 1113.50L231.06 1098.25L243.04 1084.79L256.56 1073.29L271.39 1063.96L287.31 1056.91L304.10 1052.26L321.48 1050.09L339.19 1050.42L356.98 1053.25L374.56 1058.53L391.67 1066.19L408.06 1076.11L423.47 1088.14L437.67 1102.09L450.44 1117.76L461.59 1134.91L470.96 1153.28L478.40 1172.58L483.79 1192.53L487.06 1212.83Z" fill="none" stroke="#EC4420" stroke-width="1.85" stroke-linejoin="round"/></g>
<rect x="155.1" y="934.0" width="859.00" height="701.90" fill="none" stroke="#737373" stroke-width="1.5"/>
<g stroke="#7A7A7A" stroke-width="1.3"><line x1="302.65" y1="1635.9" x2="302.65" y2="1641.6000000000001"/><line x1="473.90" y1="1635.9" x2="473.90" y2="1641.6000000000001"/><line x1="645.15" y1="1635.9" x2="645.15" y2="1641.6000000000001"/><line x1="816.40" y1="1635.9" x2="816.40" y2="1641.6000000000001"/><line x1="987.65" y1="1635.9" x2="987.65" y2="1641.6000000000001"/><line x1="149.29999999999998" y1="1048.60" x2="155.1" y2="1048.60"/><line x1="149.29999999999998" y1="1200.00" x2="155.1" y2="1200.00"/><line x1="149.29999999999998" y1="1351.40" x2="155.1" y2="1351.40"/><line x1="149.29999999999998" y1="1502.80" x2="155.1" y2="1502.80"/></g>
<g><text transform="translate(283.59 1663.50) scale(0.935 1)" font-size="24" fill="#333333">−2.5</text><text transform="translate(460.42 1663.50) scale(0.935 1)" font-size="24" fill="#333333">0.0</text><text transform="translate(632.11 1663.50) scale(0.935 1)" font-size="24" fill="#333333">2.5</text><text transform="translate(802.60 1663.50) scale(0.935 1)" font-size="24" fill="#333333">5.0</text><text transform="translate(975.15 1663.50) scale(0.935 1)" font-size="24" fill="#333333">7.5</text><text transform="translate(116.35 1057.30) scale(0.935 1)" font-size="24" fill="#333333">2.5</text><text transform="translate(116.28 1209.00) scale(0.935 1)" font-size="24" fill="#333333">0.0</text><text transform="translate(104.04 1360.20) scale(0.935 1)" font-size="24" fill="#333333">−2.5</text><text transform="translate(103.98 1512.00) scale(0.935 1)" font-size="24" fill="#333333">−5.0</text></g>
<text transform="translate(524.82 1699.50) scale(0.975 1)" font-size="29.8">PC1 (44%)</text><g transform="translate(90.5 0) rotate(-90)"><text transform="translate(-1345.08 0.00) scale(0.975 1)" font-size="29.8">PC3 (16%)</text></g>
<rect x="1154" y="110" width="187.75" height="407.8" fill="#fff" stroke="#000" stroke-width="2"/><text x="1174.18" y="139.70" font-size="20" font-weight="bold">Genotypes:</text><circle cx="1193.3" cy="163.8" r="8.4" fill="#000"/><path d="M1192.8 181.9L1200.8 189.3L1192.8 196.7L1184.8 189.3Z" fill="#000"/><path d="M1193.3 204.6L1203.5 221.5L1183.1 221.5Z" fill="#000"/><rect x="1185.5" y="234.1" width="15.4" height="14.7" fill="#000"/><text x="1211.16" y="170.80" font-size="20" font-style="italic">gi-13</text><text x="1210.88" y="196.60" font-size="20" font-style="italic">lhy-10</text><text x="1211.70" y="222.40" font-size="20" font-style="italic">prr7-5</text><text x="1211.11" y="248.20" font-size="20">WT</text><text x="1174.68" y="310.30" font-size="20" font-weight="bold">Treatments:</text><rect x="1184.2" y="323.60" width="17.9" height="16.4" fill="#EBE032"/><text x="1211.51" y="341.90" font-size="20.4">Water T0</text><rect x="1184.2" y="349.55" width="17.9" height="16.4" fill="#D3D3D1"/><text x="1211.51" y="367.70" font-size="20.4">Water T1</text><rect x="1184.2" y="375.50" width="17.9" height="16.4" fill="#6B6B69"/><text x="1211.51" y="393.50" font-size="20.4">Water T2</text><rect x="1184.2" y="401.45" width="17.9" height="16.4" fill="#B4DEE6"/><text x="1209.93" y="419.30" font-size="20.4">Mannitol T1</text><rect x="1184.2" y="427.40" width="17.9" height="16.4" fill="#7591C8"/><text x="1209.93" y="445.10" font-size="20.4">Mannitol T2</text><rect x="1184.2" y="453.35" width="17.9" height="16.4" fill="#EA68AE"/><text x="1210.67" y="470.90" font-size="20.4">Salt T1</text><rect x="1184.2" y="479.30" width="17.9" height="16.4" fill="#F04B2A"/><text x="1210.67" y="496.70" font-size="20.4">Salt T2</text>
</svg>
</body></html>
